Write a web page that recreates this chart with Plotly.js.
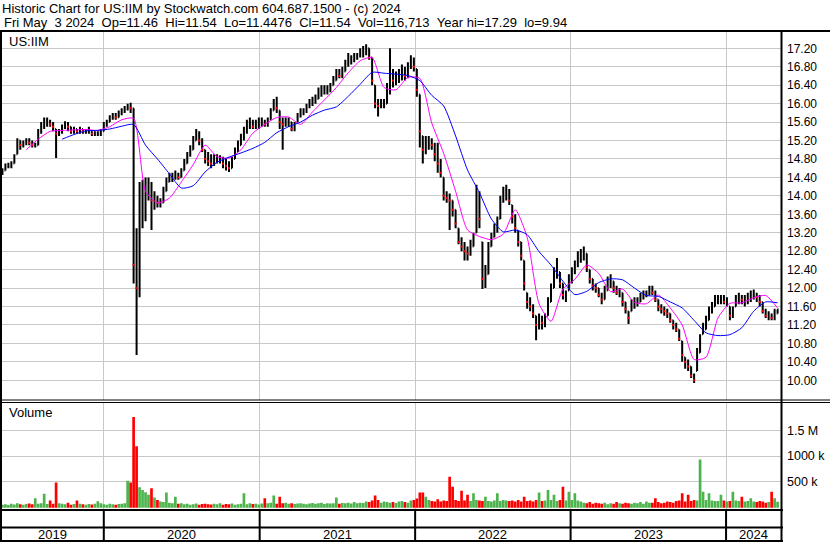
<!DOCTYPE html>
<html><head><meta charset="utf-8">
<script src="https://cdn.plot.ly/plotly-3.0.1.min.js"></script>
<style>html,body{margin:0;padding:0;background:#fff;}#chart{width:830px;height:543px;}</style>
</head><body><div id="chart"></div>
<script>
// ---------- DATA (weekly) ----------
const firstWeek = '2019-05-08';
const priceLow = [
14.45,14.55,14.6,14.6,14.7,14.9,15.0,15.05,15.1,15.1,
15.05,15.05,15.1,15.35,15.45,15.5,15.5,15.4,14.82,15.3,
15.35,15.45,15.4,15.35,15.35,15.35,15.35,15.35,15.35,15.35,
15.3,15.3,15.3,15.3,15.4,15.5,15.6,15.65,15.65,15.7,
15.75,15.8,15.85,15.8,12.1,10.55,11.8,13.3,13.45,13.9,
13.26,13.7,13.75,13.75,13.85,14.1,14.3,14.3,14.35,14.35,
14.4,14.55,14.7,14.85,15.0,15.2,15.1,14.95,14.7,14.65,
14.6,14.65,14.7,14.7,14.6,14.55,14.52,14.6,14.8,14.95,
15.1,15.2,15.35,15.45,15.45,15.45,15.45,15.5,15.5,15.5,
15.65,15.85,15.8,15.45,15.0,15.5,15.5,15.4,15.4,15.6,
15.7,15.75,15.8,15.9,15.95,16.0,16.1,16.15,16.2,16.2,
16.25,16.4,16.5,16.55,16.55,16.7,16.8,16.85,16.9,16.95,
17.0,17.0,17.05,16.95,16.4,15.9,15.72,15.9,15.9,16.0,
16.2,16.35,16.4,16.45,16.5,16.5,16.55,16.75,16.7,16.15,
15.05,14.7,14.9,15.0,15.0,14.75,14.5,14.4,13.9,13.85,
13.26,13.55,13.3,12.95,12.8,12.6,12.6,12.7,12.9,13.2,
13.3,11.98,12.0,12.3,12.9,13.1,13.2,13.5,13.85,13.9,
13.8,13.4,13.2,12.9,12.6,11.95,11.55,11.5,11.35,10.87,
11.1,11.1,11.15,11.4,11.7,12.0,12.2,12.0,11.75,11.7,
11.95,12.1,12.3,12.45,12.55,12.6,12.35,12.1,11.95,11.9,
11.8,11.65,11.75,11.95,12.0,11.9,11.85,11.8,11.6,11.45,
11.22,11.5,11.55,11.6,11.7,11.75,11.8,11.85,11.85,11.7,
11.5,11.45,11.4,11.35,11.25,11.1,11.05,10.85,10.4,10.25,
10.2,10.05,9.94,10.2,10.6,11.0,11.1,11.3,11.45,11.6,
11.65,11.65,11.65,11.6,11.3,11.35,11.6,11.65,11.65,11.6,
11.65,11.7,11.75,11.7,11.6,11.45,11.35,11.3,11.3,11.3,11.45];
const priceHigh = [
14.6,14.7,14.72,14.75,14.9,15.25,15.2,15.2,15.25,15.25,
15.2,15.15,15.45,15.6,15.7,15.7,15.65,15.6,15.45,15.45,
15.55,15.62,15.6,15.5,15.5,15.45,15.5,15.45,15.45,15.5,
15.4,15.4,15.4,15.45,15.6,15.65,15.75,15.8,15.8,15.85,
15.9,15.95,16.0,16.02,15.9,13.3,14.3,14.35,14.4,14.4,
14.3,14.1,14.0,13.95,14.2,14.4,14.5,14.5,14.55,14.5,
14.6,14.8,14.95,15.1,15.3,15.45,15.4,15.25,15.0,14.95,
14.9,14.9,14.9,14.88,14.85,14.8,14.75,14.85,15.05,15.2,
15.35,15.5,15.65,15.7,15.65,15.65,15.7,15.7,15.65,15.7,
15.9,16.1,16.15,15.85,15.7,15.7,15.7,15.6,15.6,15.8,
15.9,15.9,16.0,16.1,16.15,16.2,16.35,16.4,16.4,16.4,
16.45,16.6,16.75,16.75,16.8,16.95,17.1,17.05,17.1,17.1,
17.2,17.25,17.29,17.2,17.0,16.4,16.1,16.1,16.1,16.45,
17.2,16.75,16.7,16.75,16.85,16.8,16.9,17.05,17.0,16.75,
16.2,15.3,15.3,15.3,15.25,15.15,15.15,14.8,14.4,14.1,
14.05,13.9,13.7,13.3,13.1,13.0,12.9,13.05,13.2,14.24,
14.1,13.0,12.5,13.0,13.2,13.4,13.55,14.0,14.2,14.24,
14.15,13.8,13.6,13.25,13.0,12.6,11.9,11.8,11.65,11.4,
11.45,11.4,11.45,11.8,12.1,12.45,12.65,12.35,12.1,11.95,
12.3,12.45,12.6,12.8,12.85,12.9,12.75,12.4,12.2,12.1,
12.0,11.9,12.05,12.25,12.3,12.15,12.05,12.0,11.9,11.7,
11.5,11.75,11.8,11.8,11.9,11.95,11.95,12.05,12.05,11.95,
11.75,11.65,11.6,11.55,11.45,11.3,11.25,11.1,10.85,10.5,
10.45,10.3,10.15,10.7,11.0,11.25,11.4,11.6,11.7,11.85,
11.85,11.85,11.85,11.8,11.6,11.6,11.85,11.9,11.85,11.85,
11.9,11.95,11.97,11.9,11.85,11.7,11.55,11.5,11.45,11.55,11.54];
const priceClose = [
14.55,14.65,14.65,14.7,14.85,15.2,15.1,15.15,15.2,15.15,
15.1,15.1,15.4,15.5,15.6,15.6,15.55,15.5,15.35,15.4,
15.5,15.55,15.5,15.4,15.45,15.4,15.45,15.4,15.4,15.4,
15.35,15.35,15.35,15.4,15.55,15.6,15.7,15.75,15.7,15.8,
15.85,15.9,15.95,15.9,12.5,12.0,13.6,13.9,14.0,14.2,
13.9,13.9,13.85,13.85,14.1,14.3,14.4,14.4,14.45,14.4,
14.55,14.7,14.9,15.0,15.2,15.35,15.2,15.0,14.8,14.75,
14.7,14.8,14.8,14.8,14.7,14.65,14.6,14.8,14.95,15.1,
15.25,15.4,15.55,15.6,15.5,15.55,15.6,15.6,15.55,15.65,
15.85,16.0,15.9,15.6,15.55,15.6,15.6,15.45,15.55,15.75,
15.8,15.85,15.95,16.0,16.05,16.1,16.25,16.3,16.3,16.3,
16.4,16.5,16.65,16.6,16.7,16.85,16.95,16.95,17.0,17.05,
17.1,17.15,17.2,17.0,16.5,16.0,15.95,16.0,16.0,16.3,
16.6,16.5,16.55,16.6,16.7,16.6,16.8,16.9,16.8,16.3,
15.4,15.0,15.1,15.15,15.1,14.9,14.7,14.5,14.0,13.95,
13.9,13.7,13.4,13.0,12.9,12.8,12.75,12.9,13.1,14.0,
13.5,12.2,12.3,12.9,13.1,13.3,13.45,13.9,14.0,14.1,
13.9,13.55,13.3,13.0,12.7,12.1,11.7,11.6,11.45,11.2,
11.3,11.25,11.35,11.7,12.0,12.3,12.4,12.1,11.85,11.9,
12.2,12.35,12.5,12.7,12.75,12.75,12.45,12.2,12.05,12.0,
11.85,11.75,11.95,12.1,12.15,12.0,11.9,11.9,11.7,11.55,
11.35,11.65,11.7,11.7,11.8,11.85,11.85,11.95,11.9,11.75,
11.6,11.55,11.5,11.45,11.3,11.2,11.1,10.9,10.55,10.4,
10.3,10.1,10.0,10.6,10.9,11.1,11.3,11.5,11.6,11.75,
11.75,11.8,11.7,11.7,11.4,11.5,11.75,11.8,11.75,11.75,
11.8,11.85,11.85,11.8,11.7,11.5,11.4,11.4,11.35,11.4,11.54];
// weekly volume in thousands of shares
const volumeK = [
60,70,55,80,65,90,70,60,75,85,
70,185,80,90,270,75,140,80,487,90,
80,70,100,60,75,140,80,70,60,75,
65,80,125,90,70,60,80,70,60,75,
80,90,525,487,1755,1190,396,346,300,250,
377,200,150,120,110,294,100,90,216,80,
90,70,80,60,70,85,60,75,80,70,
65,80,70,90,60,75,70,85,60,70,
80,280,70,90,75,80,65,85,184,90,
100,240,80,216,90,100,80,90,75,85,
90,80,70,85,95,80,90,100,75,90,
85,90,200,80,95,90,100,85,110,90,
100,95,120,110,140,240,150,100,120,110,
100,110,95,120,130,110,100,140,150,180,
294,294,216,150,130,120,165,120,140,130,
600,408,150,130,331,140,250,130,280,150,
140,130,216,130,120,140,280,130,150,140,
130,140,120,150,120,216,130,140,120,150,
294,130,140,344,150,250,130,150,408,140,
312,150,280,140,120,100,90,110,80,100,
90,80,100,70,90,80,110,90,80,100,
90,80,100,90,110,80,120,100,100,184,
110,90,100,120,110,100,130,140,280,120,
250,130,152,140,935,312,150,280,140,130,
130,250,140,120,130,312,140,130,216,120,
130,184,120,110,130,120,100,110,312,184,117];
// moving averages, sampled every 4th week
const maShort = [null,null,15.0,15.23,15.4,15.42,15.43,15.44,15.42,15.5,
15.65,15.68,14.1,13.85,13.95,14.3,14.68,15.1,14.85,14.82,
15.0,15.36,15.55,15.7,15.71,15.55,15.82,16.08,16.35,16.67,
16.93,17.0,16.35,16.3,16.57,16.55,15.58,14.92,14.1,13.26,
13.12,13.05,13.17,13.7,13.1,11.66,11.28,11.98,12.19,12.5,
12.32,11.92,11.98,11.69,11.66,11.85,11.57,11.2,10.45,10.5,
11.35,11.67,11.68,11.79,11.84,11.57];
const maLong = [null,null,null,null,null,15.23,15.33,15.41,15.42,15.45,
15.51,15.55,15.1,14.8,14.48,14.17,14.22,14.52,14.73,14.84,
14.93,15.03,15.16,15.37,15.5,15.6,15.75,15.86,15.93,16.16,
16.42,16.68,16.66,16.64,16.61,16.5,16.18,15.95,15.3,14.56,
14.07,13.5,13.22,13.26,13.16,12.79,12.5,12.15,11.86,11.93,
12.12,12.2,12.18,12.0,11.84,11.82,11.7,11.57,11.3,11.03,
10.97,10.99,11.14,11.5,11.7,11.68];
const priceTickVals = [10.0,10.4,10.8,11.2,11.6,12.0,12.4,12.8,13.2,13.6,14.0,14.4,14.8,15.2,15.6,16.0,16.4,16.8,17.2];
const volTickVals = [500000,1000000,1500000];
const volTickText = ['500 k','1000 k','1.5 M'];
const yearLabels = ['2019','2020','2021','2022','2023','2024'];
const yearBreaks = ['2020-01-01','2021-01-01','2022-01-01','2023-01-01','2024-01-01'];
const titleLine1 = 'Historic Chart for US:IIM by Stockwatch.com 604.687.1500 - (c) 2024';
const titleLine2 = 'Fri May\u00a0\u00a03 2024\u00a0\u00a0Op=11.46\u00a0\u00a0Hi=11.54\u00a0\u00a0Lo=11.4476\u00a0\u00a0Cl=11.54\u00a0\u00a0Vol=116,713\u00a0\u00a0Year hi=17.29\u00a0\u00a0lo=9.94';
const symbolLabel = 'US:IIM';
const volumeLabel = 'Volume';

// ---------- derived ----------
function addDays(s, n){const d=new Date(s+'T00:00:00Z');d.setUTCDate(d.getUTCDate()+n);return d.toISOString().slice(0,10);}
const weekDates = priceClose.map((_,i)=>addDays(firstWeek,7*i));
const priceOpen = priceClose.map((c,i)=> i===0 ? c : Math.min(priceHigh[i], Math.max(priceLow[i], priceClose[i-1])));
const maDates = weekDates.filter((_,i)=>i%4===0);
const volume = volumeK.map(v=>v*1000);
const volColors = priceClose.map((c,i)=> (i===0 || c>=priceClose[i-1]) ? '#4db34d' : '#ff0000');
const downClose = priceClose.map((c,i)=> (i>0 && c<priceClose[i-1]) ? c : null);

// ---------- layout geometry ----------
const W0=830,H0=543, L=2, R=781, T=32, B=510;
const px = x => (x-L)/(R-L);
const py = y => (B-y)/(B-T);
const xRange = ['2019-05-07','2024-05-09'];
const FONT = 'Liberation Sans, Arial, sans-serif';
const TXT = 13;

const traces = [
  {type:'ohlc', x:weekDates, open:priceOpen, high:priceHigh, low:priceLow, close:priceClose,
   xaxis:'x', yaxis:'y', increasing:{line:{color:'#000',width:2}}, decreasing:{line:{color:'#000',width:2}},
   tickwidth:0.3, hoverinfo:'skip'},
  {type:'scatter', mode:'markers', x:weekDates, y:downClose, xaxis:'x', yaxis:'y',
   marker:{symbol:'square', size:2, color:'#ff0000'}, hoverinfo:'skip'},
  {type:'scatter', mode:'lines', x:maDates, y:maShort, xaxis:'x', yaxis:'y',
   line:{color:'#ff00ff', width:1, shape:'spline', smoothing:0.6}, hoverinfo:'skip'},
  {type:'scatter', mode:'lines', x:maDates, y:maLong, xaxis:'x', yaxis:'y',
   line:{color:'#0000ff', width:1, shape:'spline', smoothing:0.6}, hoverinfo:'skip'},
  {type:'bar', x:weekDates, y:volume, xaxis:'x', yaxis:'y2',
   marker:{color:volColors, line:{width:0}}, hoverinfo:'skip'}
];

const shapes = [];
function hline(y, x0, x1, w){shapes.push({type:'line', xref:'paper', yref:'paper', x0:px(x0), x1:px(x1), y0:py(y), y1:py(y), line:{color:'#000', width:w}});}
function vline(x, y0, y1, w){shapes.push({type:'line', xref:'paper', yref:'paper', x0:px(x), x1:px(x), y0:py(y0), y1:py(y1), line:{color:'#000', width:w}});}
hline(31, 0, 830, 2);
hline(400, 0, 830, 1);
hline(402.5, 0, 830, 1);
hline(510, 0, 783, 2);
hline(527.5, 0, 783, 2);
hline(541, 0, 783, 2);
vline(1, 30, 542, 2);
vline(781.5, 30, 542, 2);
yearBreaks.forEach(d=>shapes.push({type:'line', xref:'x', yref:'paper', x0:d, x1:d, y0:py(510), y1:py(541), line:{color:'#000', width:2}}));

const annotations = [];
function txt(text, x, y, anchor){annotations.push({text:text, xref:'paper', yref:'paper', x:px(x), y:py(y), xanchor:anchor||'left', yanchor:'middle', showarrow:false, font:{family:FONT, size:TXT, color:'#000'}});}
txt(titleLine2, 2, 22);
txt(symbolLabel, 7, 41);
txt(volumeLabel, 7, 412.5);
// year labels centred in the visible part of each year
const xmin = Date.parse(xRange[0]), xmax = Date.parse(xRange[1]);
yearLabels.forEach(y=>{
  const a = Math.max(Date.parse(y+'-01-01'), xmin), b = Math.min(Date.parse((+y+1)+'-01-01'), xmax);
  annotations.push({text:y, xref:'x', yref:'paper', x:new Date((a+b)/2).toISOString().slice(0,10), y:py(534), xanchor:'center', yanchor:'middle', showarrow:false, font:{family:FONT, size:TXT, color:'#000'}});
});

const volLo = -42300, volHi = 2034660;
const layout = {
  width:W0, height:H0, autosize:false,
  margin:{l:L, r:W0-R, t:T, b:H0-B, pad:0},
  paper_bgcolor:'#fff', plot_bgcolor:'#fff',
  showlegend:false, hovermode:false, bargap:0.1,
  font:{family:FONT, size:12, color:'#000'},
  title:{text:titleLine1, xref:'container', yref:'container', x:2/W0, xanchor:'left', y:1-8/H0, yanchor:'middle', pad:{t:0,b:0,l:0,r:0}, font:{family:FONT, size:TXT, color:'#000'}},
  xaxis:{type:'date', range:xRange, tickvals:yearBreaks, showticklabels:false, ticks:'',
    showgrid:true, gridcolor:'#c8c8c8', gridwidth:1, zeroline:false, showline:false,
    rangeslider:{visible:false}, fixedrange:true},
  yaxis:{domain:[py(400),1], range:[9.573,17.554], side:'right', tickvals:priceTickVals,
    ticktext:priceTickVals.map(v=>v.toFixed(2)), ticks:'', ticklabelstandoff:5,
    showgrid:true, gridcolor:'#c8c8c8', gridwidth:1, zeroline:false, showline:false,
    tickfont:{family:FONT, size:12, color:'#000'}, fixedrange:true},
  yaxis2:{domain:[0,py(402.5)], anchor:'x', range:[volLo, volHi], side:'right', tickvals:volTickVals,
    ticktext:volTickText, ticks:'', ticklabelstandoff:5,
    showgrid:true, gridcolor:'#c8c8c8', gridwidth:1, zeroline:false, showline:false,
    tickfont:{family:FONT, size:12.5, color:'#000'}, fixedrange:true},
  shapes:shapes, annotations:annotations
};
Plotly.newPlot('chart', traces, layout, {staticPlot:true, displayModeBar:false});
</script></body></html>
